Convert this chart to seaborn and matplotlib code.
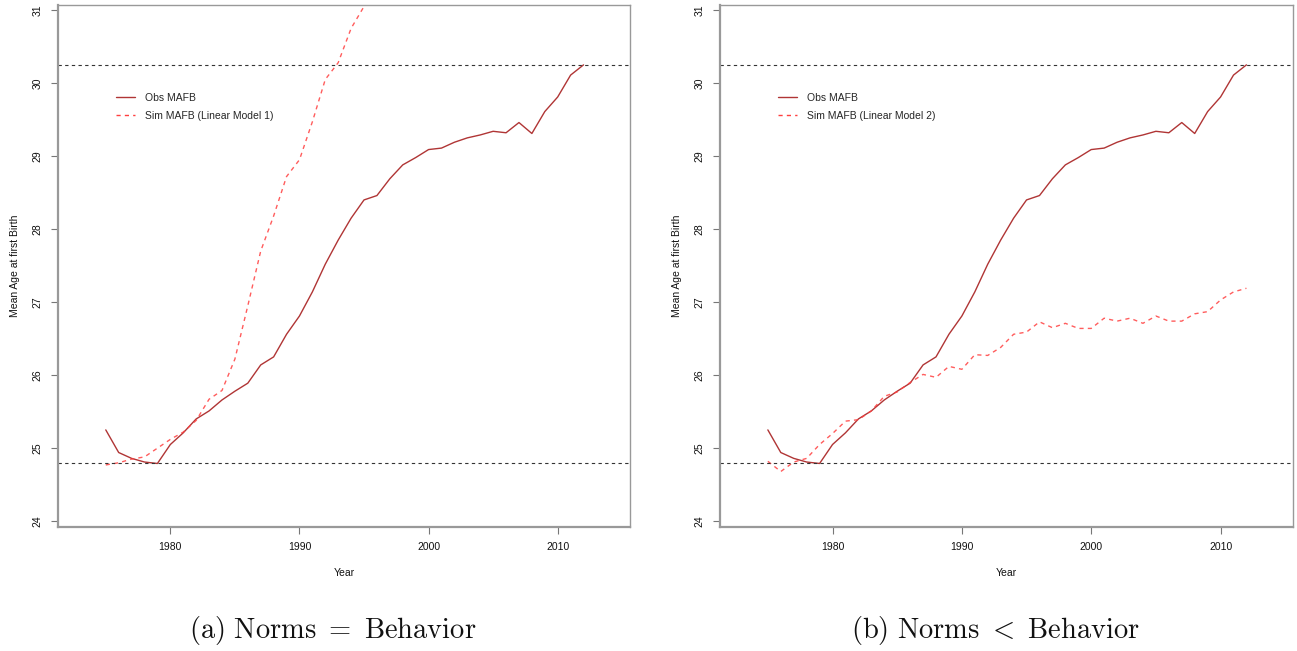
import matplotlib
matplotlib.use("Agg")
import matplotlib.pyplot as plt
import seaborn as sns
from matplotlib.lines import Line2D

years = list(range(1975, 2013))
obs_mafb = [25.25, 24.94, 24.86, 24.81, 24.79, 25.05, 25.21, 25.40, 25.51, 25.66,
            25.78, 25.89, 26.14, 26.25, 26.56, 26.81, 27.14, 27.52, 27.85, 28.15,
            28.40, 28.46, 28.69, 28.88, 28.98, 29.09, 29.11, 29.19, 29.25, 29.29,
            29.34, 29.32, 29.46, 29.31, 29.61, 29.81, 30.11, 30.25]
sim_years_1 = list(range(1975, 1997))
sim_lm1 = [24.77, 24.80, 24.85, 24.88, 25.00, 25.12, 25.22, 25.38, 25.67, 25.79,
           26.22, 26.95, 27.70, 28.18, 28.72, 28.95, 29.47, 30.05, 30.28, 30.75,
           31.05, 31.35]
sim_lm2 = [24.82, 24.68, 24.81, 24.86, 25.05, 25.20, 25.37, 25.39, 25.51, 25.71,
           25.77, 25.90, 26.01, 25.97, 26.12, 26.08, 26.28, 26.27, 26.38, 26.56,
           26.59, 26.73, 26.65, 26.71, 26.64, 26.64, 26.78, 26.74, 26.78, 26.71,
           26.81, 26.74, 26.74, 26.84, 26.87, 27.03, 27.14, 27.19]
ref_lines = [30.25, 24.79]
y_ticks = [24, 25, 26, 27, 28, 29, 30, 31]
x_ticks = [1980, 1990, 2000, 2010]
legend_labels_a = ["Obs MAFB", "Sim MAFB (Linear Model 1)"]
legend_labels_b = ["Obs MAFB", "Sim MAFB (Linear Model 2)"]
captions = [r"$\mathrm{(a)\ Norms}\ =\ \mathrm{Behavior}$",
            r"$\mathrm{(b)\ Norms}\ <\ \mathrm{Behavior}$"]

sns.set_style("ticks")
plt.rcParams['font.family'] = ['Liberation Sans', 'DejaVu Sans']
plt.rcParams['mathtext.fontset'] = 'cm'

OBS_COL = "#B03535"
SIM_COL = "#FF4040"

fig = plt.figure(figsize=(12.97, 6.51), dpi=100)
ax1 = fig.add_axes([58/1297, 124/651, 572/1297, 522/651])
ax2 = fig.add_axes([720/1297, 124/651, 573/1297, 522/651])

panels = [(ax1, sim_years_1, sim_lm1, legend_labels_a, captions[0]),
          (ax2, years, sim_lm2, legend_labels_b, captions[1])]

for ax, sy, sv, labs, cap in panels:
    sns.lineplot(x=years, y=obs_mafb, ax=ax, color=OBS_COL, linewidth=1.0)
    sns.lineplot(x=sy, y=sv, ax=ax, color=SIM_COL, linewidth=1.0, alpha=0.85)
    ax.lines[-1].set_dashes((3, 3))
    for r in ref_lines:
        ax.axhline(r, color="#333333", linewidth=0.8, dashes=(3, 3))
    ax.set_xlim(1971.3, 2015.6)
    ax.set_ylim(23.92, 31.07)
    ax.set_xticks(x_ticks)
    ax.set_yticks(y_ticks)
    ax.set_xlabel("Year", fontsize=7.5, labelpad=11, color="#111111")
    ax.set_ylabel("Mean Age at first Birth", fontsize=7.5, labelpad=9,
                  color="#111111")
    ax.tick_params(axis='both', labelsize=7.5, color="#777777", length=5,
                   width=0.8, pad=6, labelcolor="#111111")
    for lab in ax.get_yticklabels():
        lab.set_rotation(90)
        lab.set_va('center')
    for s in ax.spines.values():
        s.set_visible(True)
        s.set_color("#999999")
        s.set_linewidth(1.0)
    ax.spines['left'].set_linewidth(1.6)
    ax.spines['bottom'].set_linewidth(1.6)
    handles = [Line2D([], [], color=OBS_COL, linewidth=1.0),
               Line2D([], [], color=SIM_COL, linewidth=1.0, dashes=(3, 3))]
    ax.legend(handles, labs, loc='upper left', bbox_to_anchor=(0.085, 0.85),
              frameon=False, fontsize=7.5, handlelength=1.8, handletextpad=1.0,
              labelspacing=0.8)
    ax.text(0.48, -0.199, cap, transform=ax.transAxes, ha='center', va='center',
            fontsize=20.5, color="#111111")

fig.savefig("out.png", dpi=100)
